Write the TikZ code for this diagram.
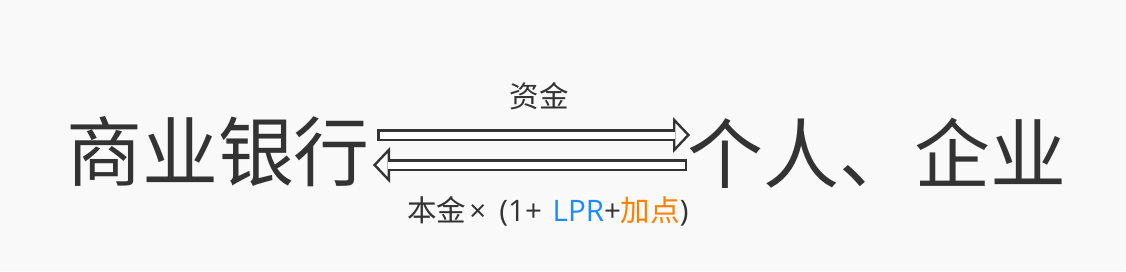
\documentclass[tikz,border=0pt]{standalone}
\usepackage{fontspec}
\setmainfont{Noto Sans CJK SC}
\newfontfamily\latinsans{Open Sans}
\usetikzlibrary{arrows.meta,positioning,calc}
\definecolor{bggray}{HTML}{F9F9F9}
\definecolor{inkgray}{HTML}{333333}
\definecolor{lprblue}{HTML}{1A8CFF}
\definecolor{ptorange}{HTML}{FF8000}
\tikzset{
  bigname/.style={inner sep=0pt,text=inkgray,font=\fontsize{54pt}{60pt}\selectfont},
  flowlbl/.style={inner sep=0pt,text=inkgray,font=\fontsize{21pt}{24pt}\selectfont},
  hollowout/.style={draw=inkgray,line width=3mm,
    -{Triangle[length=4.25mm,width=9mm,line width=0pt]}},
  hollowin/.style={draw=white,line width=1.75mm,shorten <=0.625mm,shorten >=0.86mm,
    -{Triangle[length=2.77mm,width=5.85mm,line width=0pt]}},
}
\begin{document}
\begin{tikzpicture}[x=0.025cm,y=-0.025cm]
  \fill[bggray] (0,0) rectangle (1126,271);
  \useasboundingbox (0,0) rectangle (1126,271);
  % the two sides
  \node[bigname] (bank) at (218,152) {商业银行};
  \node[bigname] (firm) at (877,153) {个人、企业};
  % end points of the two flows
  \coordinate (fs) at (377,135);
  \coordinate (fe) at (690,135);
  \coordinate (bs) at (687,165);
  \coordinate (be) at (373,165);
  \draw[hollowout] (fs) -- (fe);
  \draw[hollowin] (fs) -- (fe);
  \draw[hollowout] (bs) -- (be);
  \draw[hollowin] (bs) -- (be);
  \node[flowlbl] (fund) at (539,96) {资金};
  \node[flowlbl] (repay) at (548,211)
    {本金\hspace{0.1em}{\latinsans×\hspace{3.3mm}(1+\hspace{2.7mm}\textcolor{lprblue}{LPR}+}\textcolor{ptorange}{加点}{\latinsans)}};
\end{tikzpicture}
\end{document}
